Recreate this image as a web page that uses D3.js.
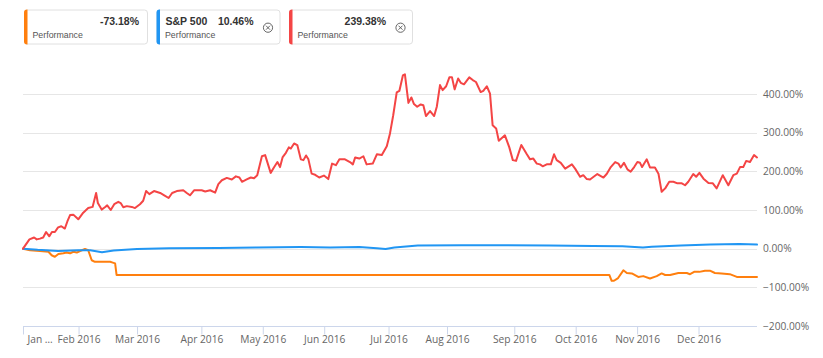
<!DOCTYPE html>
<html><head><meta charset="utf-8">
<script src="https://cdn.jsdelivr.net/npm/d3@7/dist/d3.min.js"></script>
<style>body{margin:0;background:#fff;}svg{display:block;}</style>
</head><body><svg id="chart" width="823" height="358"></svg>
<script>
// ---- data ----
const monthLabels = ["Jan …","Feb 2016","Mar 2016","Apr 2016","May 2016","Jun 2016","Jul 2016","Aug 2016","Sep 2016","Oct 2016","Nov 2016","Dec 2016"];
const monthStartDays = [0,19,39,61,82,103,125,145,168,189,210,231];
const lastDay = 251;
const yTickValues = [-200,-100,0,100,200,300,400];
const legendNames = ["", "S&P 500", ""];
const legendPerf = ["-73.18%", "10.46%", "239.38%"];
const legendClosable = [false, true, true];
const seriesColors = ["#ff7f0e", "#2196f3", "#f44545"];

const orangeDays = [0,2.4,5.8,8.7,9.8,10.9,12.1,13.8,14.9,16.1,17.2,18.4,19.5,21.2,22.3,23.5,24.6,29.8,30.7,31.5,32.0,200.5,201.3,202.1,203.5,205.3,206.5,208.2,210.4,212.1,214.4,216.7,218.4,219.6,221.3,224.1,227.0,228.1,229.5,231.3,233.2,234.9,236.6,238.9,241.7,244.1,247.5,251];
const orangeValues = [0,-4,-6,-8,-17,-21,-14,-12,-10,-12,-8,-10,-6,-1,-4,-30,-34,-34,-36,-38,-68,-68,-83,-83,-76,-56,-63,-64,-73,-71,-77,-71,-64,-68,-68,-63,-63,-66,-60,-60,-57,-57,-63,-64,-66,-73,-73,-73.18];

const blueDays = [0,5,12,19,23,27,31,39,50,67,80,95,105,115,121,124,127,135,150,165,180,195,205,212,215,225,235,245,251];
const blueValues = [0,-3,-6,-4,-4,-9,-5,-1,1,2,3,4,3,4,1,-1,3,8,9,9,8,7,6,3,5,8,11,12,10.46];

const redDays = [0,2.2,3.8,4.7,5.8,6.9,7.9,9.0,9.9,10.9,12.0,13.1,14.3,15.2,16.1,17.2,18.9,20.6,22.3,23.8,25.0,25.6,26.9,28.0,28.8,30.0,31.2,32.6,33.4,34.3,35.5,37.2,38.3,40.0,41.1,42.1,43.2,44.8,46.9,48.3,49.8,51.0,52.6,54.8,56.0,57.1,58.5,61.1,62.3,64.0,65.7,66.8,68.0,69.7,71.4,72.8,74.0,74.9,76.5,77.9,79.0,80.1,81.7,82.8,84.7,85.8,87.0,87.9,88.8,89.9,90.9,91.6,92.7,93.8,95.0,95.9,96.8,97.6,98.7,99.9,101.3,102.9,104.4,105.7,107.0,108.2,110.1,111.8,112.8,113.6,115.0,116.4,117.5,119.6,121.0,122.7,124.4,125.5,126.6,127.8,128.7,129.9,130.6,131.8,132.8,133.7,134.8,136.0,136.9,137.8,139.2,140.6,141.5,142.6,143.5,144.7,145.8,146.7,147.6,148.8,149.7,150.8,152.6,153.8,154.9,156.5,157.4,158.6,159.7,160.6,161.8,162.7,164.8,166.3,167.5,168.6,170.4,172.3,173.4,174.5,175.7,176.8,177.7,179.1,180.5,181.6,182.5,183.9,185.4,187.7,188.8,190.5,191.6,192.8,193.9,194.8,196.4,198.5,199.6,201.0,202.5,203.6,204.4,205.5,206.7,207.8,209.0,210.1,211.0,211.7,213.3,214.4,216.1,217.3,218.4,219.6,221.0,222.4,223.8,225.3,226.4,227.5,229.2,230.2,231.3,232.7,234.4,235.9,237.2,239.3,241.2,242.9,244.1,245.2,246.3,247.3,248.6,250.0,251];
const redValues = [0,24,29,24,26,29,43,32,43,43,55,58,52,71,87,88,76,93,105,108,144,118,101,107,112,100,115,121,118,107,110,108,105,115,124,149,141,149,144,138,131,144,149,151,144,138,151,151,148,151,145,167,177,183,179,187,184,173,179,184,182,190,239,242,196,210,224,211,237,248,262,259,272,268,231,229,241,231,194,191,184,189,180,220,216,231,231,224,218,236,233,239,218,220,244,242,265,298,345,404,408,448,451,377,391,374,367,373,371,343,356,343,367,423,410,420,443,443,412,440,429,425,443,436,431,405,408,420,401,319,311,279,293,262,229,227,268,244,231,233,220,218,213,218,218,244,229,222,207,218,207,186,190,180,179,184,193,184,193,211,224,220,210,222,205,199,211,224,222,211,231,210,210,194,147,156,173,173,169,169,164,173,193,186,196,181,170,169,156,190,164,190,194,211,211,227,224,242,236];

// ---- chart ----
const svg = d3.select("#chart");
const plotLeft = 23, plotRight = 757, plotTop = 94, plotBottom = 326;
const x = d3.scaleLinear().domain([0, lastDay]).range([plotLeft, plotRight]);
const y = d3.scaleLinear().domain([-200, 400]).range([plotBottom, plotTop]);
const axisFont = "'Open Sans', sans-serif";

// gridlines
svg.append("g").selectAll("line").data(yTickValues.filter(v => v !== -200)).join("line")
  .attr("x1", plotLeft).attr("x2", plotRight)
  .attr("y1", d => Math.round(y(d)) + 0.5).attr("y2", d => Math.round(y(d)) + 0.5)
  .attr("stroke", "#e6e6e6").attr("stroke-width", 1);

// y labels (right side)
const yAxis = d3.axisRight(y).tickValues(yTickValues).tickSize(0).tickPadding(6)
  .tickFormat(d => (d < 0 ? "\u2212" + Math.abs(d).toFixed(2) : d.toFixed(2)) + "%");
const yg = svg.append("g").attr("transform", `translate(${plotRight},0)`).call(yAxis);
yg.select(".domain").remove();
yg.selectAll("text").attr("fill", "#666").style("font-family", axisFont).style("font-size", "10.2px");

// x axis
const xAxis = d3.axisBottom(x).tickValues(monthStartDays).tickSize(8).tickPadding(1)
  .tickFormat((d, i) => monthLabels[i]);
const xg = svg.append("g").attr("transform", `translate(0,${plotBottom + 0.5})`).call(xAxis);
xg.select(".domain").attr("stroke", "#ccd6eb").attr("d", `M${plotLeft},0H${plotRight}`);
xg.selectAll(".tick line").attr("stroke", "#ccd6eb");
xg.selectAll("text").attr("fill", "#666").style("font-family", axisFont).style("font-size", "10.2px");
xg.selectAll(".tick").filter((d, i) => i === 0).select("text").attr("text-anchor", "start").attr("x", 4);

// lines
const series = [
  {days: orangeDays, values: orangeValues, color: seriesColors[0]},
  {days: blueDays, values: blueValues, color: seriesColors[1]},
  {days: redDays, values: redValues, color: seriesColors[2]}
];
const line = d3.line().x(d => x(d[0])).y(d => y(d[1]));
series.forEach(s => {
  svg.append("path")
    .datum(s.days.map((d, i) => [d, s.values[i]]))
    .attr("d", line).attr("fill", "none")
    .attr("stroke", s.color).attr("stroke-width", 2)
    .attr("stroke-linejoin", "round").attr("stroke-linecap", "round");
});

// legend boxes
const boxX = [24, 156.5, 289], boxW = 123, boxY = 9.5, boxH = 34;
const legendFont = "'Liberation Sans', Arial, sans-serif";
boxX.forEach((bx, i) => {
  const g = svg.append("g").attr("transform", `translate(${bx},${boxY})`);
  g.append("rect").attr("x", 0.5).attr("y", 0.5).attr("width", boxW).attr("height", boxH)
    .attr("rx", 3).attr("fill", "#fff").attr("stroke", "#e0e0e0");
  g.append("path").attr("d", `M3,0 H3.5 V${boxH + 1} H3 A3,3 0 0 1 0,${boxH - 2} V3 A3,3 0 0 1 3,0Z`)
    .attr("fill", seriesColors[i]);
  const valueRight = legendClosable[i] ? 97 : 115;
  if (legendNames[i]) {
    g.append("text").attr("x", 9).attr("y", 15.5).text(legendNames[i])
      .attr("fill", "#333").style("font-family", legendFont).style("font-weight", "bold").style("font-size", "10.5px");
  }
  g.append("text").attr("x", valueRight).attr("y", 15.5).attr("text-anchor", "end").text(legendPerf[i])
    .attr("fill", "#333").style("font-family", legendFont).style("font-weight", "bold").style("font-size", "10.5px");
  g.append("text").attr("x", 8.5).attr("y", 28.5).text("Performance")
    .attr("fill", "#555").style("font-family", legendFont).style("font-size", "8.8px");
  if (legendClosable[i]) {
    const cx = 111.5, cy = 18.2, r = 4.6;
    g.append("circle").attr("cx", cx).attr("cy", cy).attr("r", r).attr("fill", "none").attr("stroke", "#555").attr("stroke-width", 0.9);
    const k = 2;
    g.append("path").attr("d", `M${cx - k},${cy - k}L${cx + k},${cy + k}M${cx + k},${cy - k}L${cx - k},${cy + k}`)
      .attr("stroke", "#555").attr("stroke-width", 0.9);
  }
});
</script></body></html>
